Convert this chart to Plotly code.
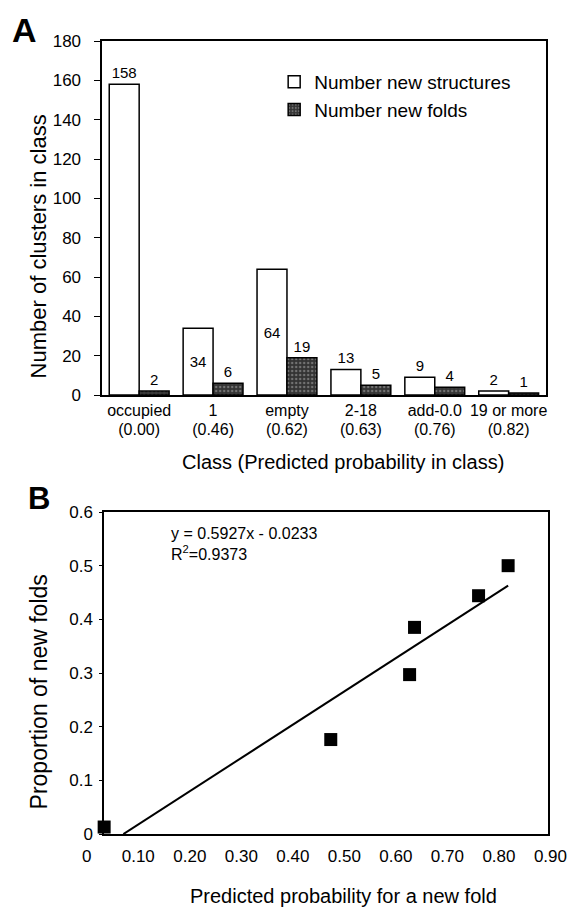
import plotly.graph_objects as go

# ---------------- Data ----------------
classes = ["occupied", "1", "empty", "2-18", "add-0.0", "19 or more"]
class_probs = ["(0.00)", "(0.46)", "(0.62)", "(0.63)", "(0.76)", "(0.82)"]
new_structures = [158, 34, 64, 13, 9, 2]
new_folds = [2, 6, 19, 5, 4, 1]

pred_prob = [0.00, 0.46, 0.62, 0.63, 0.76, 0.82]
prop_new_folds = [0.013, 0.176, 0.297, 0.385, 0.444, 0.500]

fit_slope = 0.5927
fit_intercept = -0.0233
fit_r2 = 0.9373
fit_x = [0.039, 0.82]

a_yticks = [0, 20, 40, 60, 80, 100, 120, 140, 160, 180]
b_yticks = [0, 0.1, 0.2, 0.3, 0.4, 0.5, 0.6]
b_yticktext = ["0", "0.1", "0.2", "0.3", "0.4", "0.5", "0.6"]
b_xticks = [0, 0.1, 0.2, 0.3, 0.4, 0.5, 0.6, 0.7, 0.8, 0.9]
b_xticktext = ["0", "0.10", "0.20", "0.30", "0.40", "0.50", "0.60", "0.70", "0.80", "0.90"]

# ---------------- Figure ----------------
FONT = "Liberation Sans, Arial, Helvetica, sans-serif"
BLACK = "black"
idx = list(range(len(classes)))

fig = go.Figure()

white_pos = ["inside" if v in (34, 64) else "outside" for v in new_structures]

fig.add_trace(go.Bar(
    x=classes, y=new_structures, name="Number new structures",
    marker=dict(color="white", line=dict(color=BLACK, width=1.5)),
    text=[str(v) for v in new_structures], textposition=white_pos,
    insidetextanchor="middle", textangle=0,
    textfont=dict(family=FONT, size=15, color=BLACK),
    cliponaxis=False, xaxis="x", yaxis="y",
))
fig.add_trace(go.Bar(
    x=classes, y=new_folds, name="Number new folds",
    marker=dict(color="#3a3a3a", line=dict(color=BLACK, width=1.5),
                pattern=dict(shape=".", fgcolor="#b0b0b0", bgcolor="#333333",
                             size=4, solidity=0.3)),
    text=[str(v) for v in new_folds], textposition="outside", textangle=0,
    textfont=dict(family=FONT, size=15, color=BLACK),
    cliponaxis=False, xaxis="x", yaxis="y",
))
# invisible helper trace carrying the second line of category labels
fig.add_trace(go.Scatter(
    x=idx, y=new_structures, mode="markers", marker=dict(opacity=0),
    showlegend=False, hoverinfo="skip", xaxis="x4", yaxis="y",
))

fit_y = [fit_slope * x + fit_intercept for x in fit_x]
fig.add_trace(go.Scatter(
    x=fit_x, y=fit_y, mode="lines", line=dict(color=BLACK, width=2),
    showlegend=False, xaxis="x2", yaxis="y2", hoverinfo="skip",
))
fig.add_trace(go.Scatter(
    x=pred_prob, y=prop_new_folds, mode="markers",
    marker=dict(symbol="square", size=13, color=BLACK),
    showlegend=False, xaxis="x2", yaxis="y2", cliponaxis=False,
))
# invisible helper trace carrying panel B's (offset) x tick labels
fig.add_trace(go.Scatter(
    x=pred_prob, y=prop_new_folds, mode="markers", marker=dict(opacity=0),
    showlegend=False, hoverinfo="skip", xaxis="x3", yaxis="y2",
))

frame = dict(showline=True, linecolor=BLACK, linewidth=1.5, mirror=True,
             showgrid=False, zeroline=False)

# the page body adds an 8px margin, so the figure is made 8px smaller
OFF = 8
FIG_W, FIG_H = 588 - OFF, 910 - OFF
L, R, T, B = 80 - OFF, 8, 41 - OFF, 76
W = FIG_W - L - R
H = FIG_H - T - B


def px(xpix):
    return (xpix - (L + OFF)) / W


def py(ypix):
    return ((FIG_H - B + OFF) - ypix) / H


fig.update_layout(
    width=FIG_W, height=FIG_H,
    margin=dict(l=L, r=R, t=T, b=B),
    paper_bgcolor="white", plot_bgcolor="rgba(0,0,0,0)",
    font=dict(family=FONT, color=BLACK),
    barmode="group", bargap=0.19, bargroupgap=0,
    showlegend=True,
    legend=dict(x=px(281), y=py(63), xanchor="left", yanchor="top",
                font=dict(family=FONT, size=19, color=BLACK),
                bgcolor="rgba(0,0,0,0)", tracegroupgap=0),
    xaxis=dict(frame, domain=[px(103), px(562)], anchor="y", range=[-0.5, 5.5],
               ticks="",
               tickfont=dict(family=FONT, size=16, color=BLACK)),
    xaxis4=dict(domain=[px(103), px(562)], anchor="y", overlaying="x", side="bottom",
                range=[-0.5, 5.5], tickvals=idx, ticktext=class_probs,
                showline=False, showgrid=False, zeroline=False, ticks="",
                ticklabelstandoff=23,
                tickfont=dict(family=FONT, size=16, color=BLACK)),
    yaxis=dict(frame, domain=[py(395), 1], anchor="x", range=[0, 180],
               tickvals=a_yticks,
               ticks="outside", ticklen=6, tickcolor=BLACK, ticklabelstandoff=10,
               tickfont=dict(family=FONT, size=17, color=BLACK)),
    xaxis2=dict(frame, domain=[px(105), px(564)], anchor="y2", range=[0, 0.9],
                showticklabels=False, ticks=""),
    xaxis3=dict(domain=[px(87), px(567)], anchor="y2", range=[0, 0.9],
                tickvals=b_xticks, ticktext=b_xticktext, ticks="",
                showline=False, showgrid=False, zeroline=False, ticklabelstandoff=10,
                tickfont=dict(family=FONT, size=17, color=BLACK)),
    yaxis2=dict(frame, domain=[0, py(512)], anchor="x2", range=[0, 0.6],
                tickvals=b_yticks, ticktext=b_yticktext,
                ticks="outside", ticklen=3, tickcolor=BLACK, ticklabelstandoff=3,
                tickfont=dict(family=FONT, size=17, color=BLACK)),
    annotations=[
        dict(text="<b>A</b>", xref="paper", yref="paper", x=px(8), y=py(30),
             xanchor="left", yanchor="middle", showarrow=False,
             font=dict(family=FONT, size=34, color=BLACK)),
        dict(text="<b>B</b>", xref="paper", yref="paper", x=px(24), y=py(498),
             xanchor="left", yanchor="middle", showarrow=False,
             font=dict(family=FONT, size=31, color=BLACK)),
        dict(text="Class (Predicted probability in class)", xref="paper", yref="paper",
             x=px(352), y=py(462), xanchor="center", yanchor="middle", showarrow=False,
             font=dict(family=FONT, size=20, color=BLACK)),
        dict(text="Number of clusters in class", xref="paper", yref="paper",
             x=px(38), y=py(246), xanchor="center", yanchor="middle", showarrow=False,
             textangle=-90, font=dict(family=FONT, size=22, color=BLACK)),
        dict(text="Predicted probability for a new fold", xref="paper", yref="paper",
             x=px(353), y=py(896), xanchor="center", yanchor="middle", showarrow=False,
             font=dict(family=FONT, size=20, color=BLACK)),
        dict(text="Proportion of new folds", xref="paper", yref="paper",
             x=px(38), y=py(692), xanchor="center", yanchor="middle", showarrow=False,
             textangle=-90, font=dict(family=FONT, size=23, color=BLACK)),
        dict(text=f"y = {fit_slope}x - {abs(fit_intercept)}<br>R<sup>2</sup>={fit_r2}",
             xref="paper", yref="paper", x=px(172), y=py(523), xanchor="left", yanchor="top",
             align="left", showarrow=False,
             font=dict(family=FONT, size=16, color=BLACK)),
    ],
)

fig.write_html("out.html")
